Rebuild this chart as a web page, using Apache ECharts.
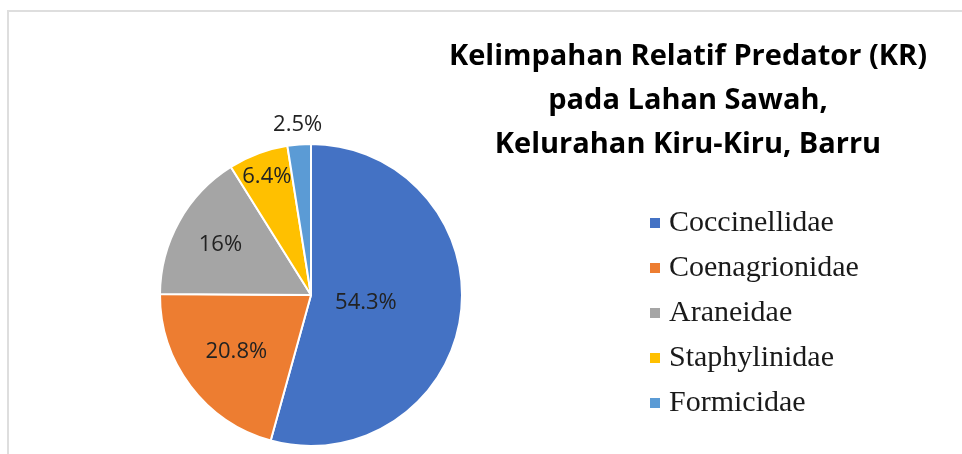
<!DOCTYPE html>
<html>
<head>
<meta charset="utf-8">
<script src="https://cdn.jsdelivr.net/npm/echarts@6/dist/echarts.min.js"></script>
<style>
  html, body { margin: 0; padding: 0; background: #fff; }
  #main { width: 962px; height: 454px; }
</style>
</head>
<body>
<div id="main"></div>
<script>
var categories = ['Coccinellidae', 'Coenagrionidae', 'Araneidae', 'Staphylinidae', 'Formicidae'];
var values = [54.3, 20.8, 16, 6.4, 2.5];
var colors = ['#4472C4', '#ED7D31', '#A5A5A5', '#FFC000', '#5B9BD5'];
// how far out each label sits, as a share of the radius
var labelDist = [0.367, 0.62, 0.687, 0.834, 1.13];

var CX = 311, CY = 295, R = 151;

var chartDom = document.getElementById('main');
var myChart = echarts.init(chartDom);
var option;

option = {
  animation: false,
  color: colors,
  title: {
    text: 'Kelimpahan Relatif Predator (KR)\npada Lahan Sawah,\nKelurahan Kiru-Kiru, Barru',
    left: 683,
    top: 30,
    textAlign: 'center',
    textStyle: {
      fontFamily: 'Open Sans',
      fontWeight: 'bold',
      fontSize: 29,
      lineHeight: 44,
      color: '#000'
    }
  },
  legend: {
    orient: 'vertical',
    left: 648,
    top: 208,
    padding: 0,
    icon: 'rect',
    itemWidth: 12,
    itemHeight: 12,
    itemGap: 15,
    data: categories,
    textStyle: {
      fontFamily: 'Liberation Serif',
      fontSize: 30,
      lineHeight: 30,
      color: '#1a1a1a',
      padding: [0, 0, 0, 3]
    }
  },
  // light frame around the plot area
  graphic: [
    {
      type: 'rect',
      shape: { x: 8, y: 11, width: 1000, height: 1000 },
      style: { fill: 'none', stroke: '#dedede', lineWidth: 2 }
    }
  ],
  series: [
    {
      type: 'pie',
      center: [CX, CY],
      radius: R,
      startAngle: 90,
      clockwise: true,
      itemStyle: {
        borderColor: '#fff',
        borderWidth: 2
      },
      label: {
        show: true,
        position: 'inside',
        formatter: function (p) { return p.value + '%'; },
        fontFamily: 'Open Sans',
        fontSize: 22,
        color: '#222'
      },
      labelLine: { show: false },
      labelLayout: function (p) {
        var r = p.labelRect;
        var vx = r.x + r.width / 2 - CX;
        var vy = r.y + r.height / 2 - CY;
        var d = Math.sqrt(vx * vx + vy * vy) || 1;
        var k = labelDist[p.dataIndex] * R / d;
        return { dx: vx * (k - 1), dy: vy * (k - 1) };
      },
      data: categories.map(function (name, i) {
        return { name: name, value: values[i] };
      })
    }
  ]
};

option && myChart.setOption(option);
</script>
</body>
</html>
